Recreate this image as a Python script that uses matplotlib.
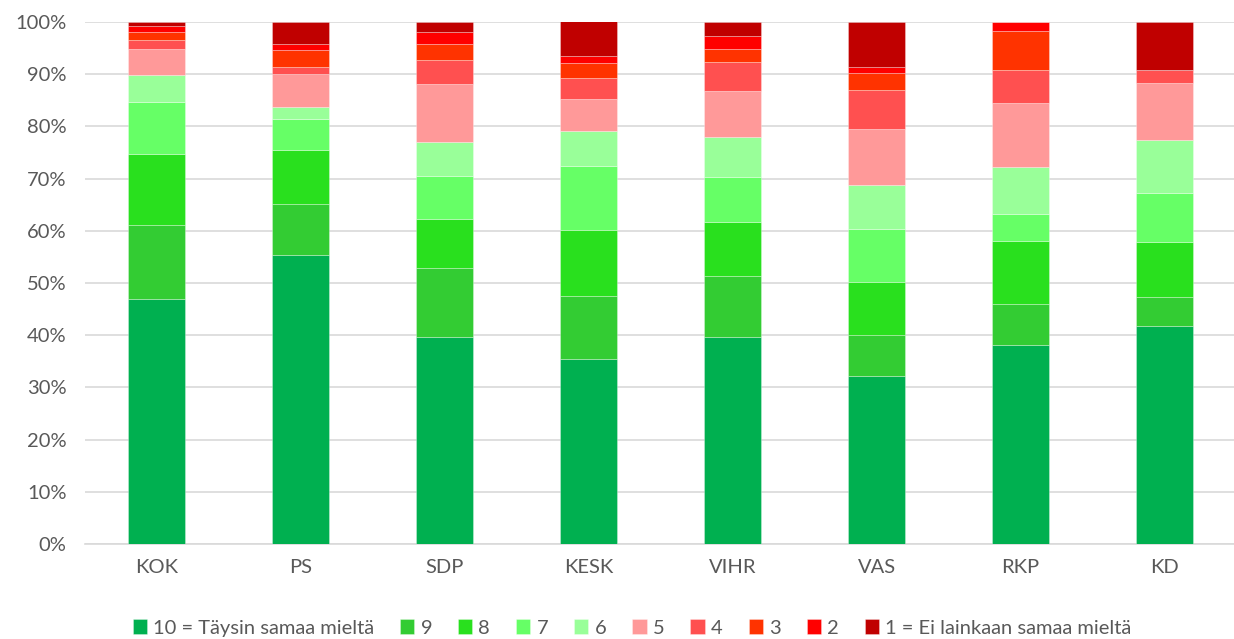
import numpy as np
import matplotlib
matplotlib.use("Agg")
import matplotlib.pyplot as plt
from matplotlib.ticker import PercentFormatter

plt.rcParams['font.family'] = ['Lato', 'DejaVu Sans']

parties = ['KOK', 'PS', 'SDP', 'KESK', 'VIHR', 'VAS', 'RKP', 'KD']
labels = ['10 = Täysin samaa mieltä', '9', '8', '7', '6', '5', '4', '3', '2',
          '1 = Ei lainkaan samaa mieltä']
colors = ['#00B050', '#33CC33', '#29E01E', '#66FF66', '#99FF99',
          '#FF9999', '#FF5050', '#FF3300', '#FF0000', '#C00000']

# share of answers (%) per party, rows = answer 10 ... 1
v10 = [46.9, 55.4, 39.7, 35.4, 39.7, 32.2, 38.1, 41.8]
v9 = [14.3, 9.7, 13.2, 12.2, 11.7, 7.8, 7.8, 5.5]
v8 = [13.6, 10.4, 9.4, 12.5, 10.3, 10.2, 12.2, 10.6]
v7 = [9.8, 5.9, 8.2, 12.4, 8.7, 10.1, 5.1, 9.4]
v6 = [5.3, 2.3, 6.5, 6.6, 7.6, 8.5, 9.1, 10.1]
v5 = [4.9, 6.4, 11.1, 6.1, 8.8, 10.7, 12.2, 10.9]
v4 = [1.8, 1.2, 4.6, 4.1, 5.5, 7.5, 6.3, 2.5]
v3 = [1.5, 3.3, 3.0, 2.9, 2.5, 3.2, 7.5, 0.0]
v2 = [1.1, 1.1, 2.4, 1.2, 2.5, 1.2, 1.7, 0.0]
v1 = [0.8, 4.3, 1.9, 6.8, 2.7, 8.6, 0.0, 9.2]
series = [v10, v9, v8, v7, v6, v5, v4, v3, v2, v1]

fig = plt.figure(figsize=(12.34, 6.39), dpi=100)
ax = fig.add_axes([84.5 / 1234, 95 / 639, 1152 / 1234, 522 / 639])

x = np.arange(len(parties))
bottom = np.zeros(len(parties))
for vals, lab, col in zip(series, labels, colors):
    vals = np.array(vals)
    ax.bar(x, vals, 0.4, bottom=bottom, color=col, label=lab,
           edgecolor=(1, 1, 1, 0.35), linewidth=0.6, zorder=3)
    bottom += vals

ax.set_xlim(-0.5, len(parties) - 0.5)
ax.set_ylim(0, 100)
ax.set_yticks(np.arange(0, 101, 10))
ax.yaxis.set_major_formatter(PercentFormatter(decimals=0))
ax.set_xticks(x)
ax.set_xticklabels(parties)
ax.grid(axis='y', color='#D9D9D9', linewidth=1.2, zorder=0)
for s in ['top', 'right', 'left']:
    ax.spines[s].set_visible(False)
ax.spines['bottom'].set_color('#D9D9D9')
ax.spines['bottom'].set_linewidth(1.2)
ax.tick_params(axis='both', length=0, labelsize=14.5, colors='#595959')
ax.tick_params(axis='x', pad=11)
ax.tick_params(axis='y', pad=13)

leg = fig.legend(loc='center', bbox_to_anchor=(632 / 1234, 1 - 628 / 639), ncol=10,
                 frameon=False, fontsize=14.5, handlelength=0.7, handleheight=0.7,
                 handletextpad=0.3, columnspacing=1.3, borderaxespad=0)
for t in leg.get_texts():
    t.set_color('#595959')

fig.savefig('out.png', dpi=100)
